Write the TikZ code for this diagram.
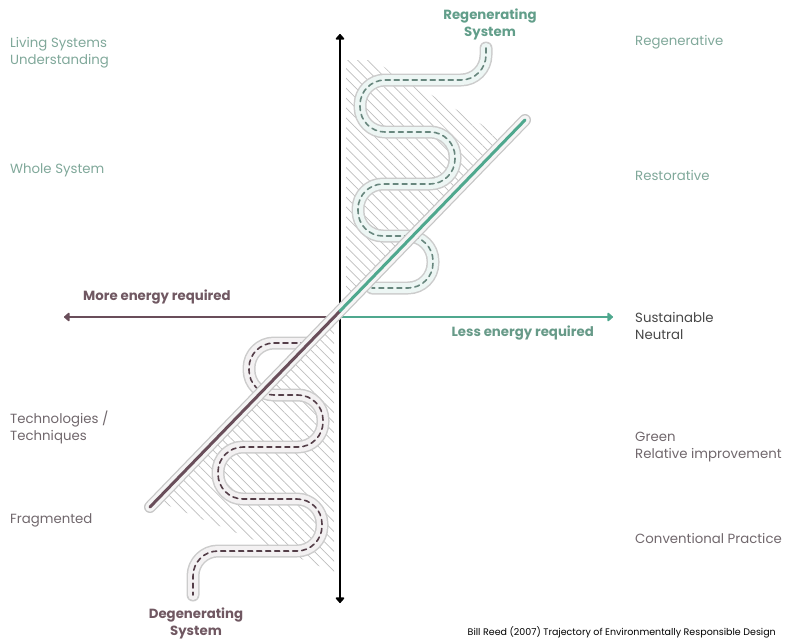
\documentclass[tikz,border=0pt]{standalone}
\usepackage{fontspec}
\setmainfont{Poppins}
\usetikzlibrary{arrows.meta, patterns.meta, calc}
\usepackage{xcolor}

\definecolor{regen}{RGB}{79,168,142}
\definecolor{regentext}{RGB}{98,158,138}
\definecolor{sage}{RGB}{128,168,154}
\definecolor{degen}{RGB}{105,78,90}
\definecolor{degentext}{RGB}{112,88,98}
\definecolor{dusk}{RGB}{112,103,108}
\definecolor{hatch}{RGB}{190,190,190}

\tikzset{
	label/.style={anchor=west, align=left, inner sep=0pt, font=\fontsize{13.3}{17}\selectfont},
	heading/.style={align=center, inner sep=0pt, font=\bfseries\fontsize{13.3}{17}\selectfont},
	tip/.style={Triangle[round, length=6pt, width=10pt]},
	axis/.style={line width=2.2pt, -{Triangle[round, length=6pt, width=10pt]}},
	trail/.style={rounded corners=25pt, line cap=round, line join=round},
}

\begin{document}
\begin{tikzpicture}[x=1pt, y=-1pt]
	\useasboundingbox (0,0) rectangle (786,643);

	\coordinate (o) at (340,317);
	\coordinate (top) at (340,34);
	\coordinate (bottom) at (340,603);
	\coordinate (west) at (64,317);
	\coordinate (east) at (613,317);
	\coordinate (lo) at (150,507);
	\coordinate (hi) at (525,120);
	\coordinate (cross) at (340,311);

	% hatched areas
	\fill [pattern={Lines[angle=-45, distance=7pt, line width=0.7pt]}, pattern color=hatch]
		(346,60) -- (372,60) -- (508,140) -- (cross) -- (346,305) -- cycle;
	\fill [pattern={Lines[angle=-45, distance=7pt, line width=0.7pt]}, pattern color=hatch]
		(334,322) -- (334,572) -- (162,503) -- cycle;

	% axes
	\draw [axis, degen] (o) -- (west);
	\draw [axis, regen] (o) -- (east);
	\draw [axis, black, {Triangle[round, length=6pt, width=10pt]}-{Triangle[round, length=6pt, width=10pt]}] (top) -- (bottom);

	% regenerating trail
	\draw [trail, gray!40, line width=13pt] (486,48) -- (486,80) -- (360,80) -- (360,132) -- (455,132) -- (455,184) -- (358,184) -- (358,236) -- (433,236) -- (433,288) -- (372,288);
	\draw [trail, regen!10, line width=10pt] (486,48) -- (486,80) -- (360,80) -- (360,132) -- (455,132) -- (455,184) -- (358,184) -- (358,236) -- (433,236) -- (433,288) -- (372,288);
	\draw [trail, regen!50!black!70, line width=1.6pt, dash pattern=on 5pt off 4pt] (486,48) -- (486,80) -- (360,80) -- (360,132) -- (455,132) -- (455,184) -- (358,184) -- (358,236) -- (433,236) -- (433,288) -- (372,288);

	% degenerating trail
	\draw [trail, gray!40, line width=13pt] (306,343) -- (249,343) -- (249,395) -- (323,395) -- (323,447) -- (218,447) -- (218,499) -- (322,499) -- (322,551) -- (193,551) -- (193,595);
	\draw [trail, degen!8, line width=10pt] (306,343) -- (249,343) -- (249,395) -- (323,395) -- (323,447) -- (218,447) -- (218,499) -- (322,499) -- (322,551) -- (193,551) -- (193,595);
	\draw [trail, degen!80!black, line width=1.6pt, dash pattern=on 5pt off 4pt] (306,343) -- (249,343) -- (249,395) -- (323,395) -- (323,447) -- (218,447) -- (218,499) -- (322,499) -- (322,551) -- (193,551) -- (193,595);

	% trajectory
	\draw [gray!45, line width=12pt, line cap=round] (lo) -- (hi);
	\draw [white!92!gray, line width=9.5pt, line cap=round] (lo) -- (hi);
	\draw [degen, line width=3pt, line cap=round] (lo) -- (cross);
	\draw [regen, line width=3pt, line cap=round] (cross) -- (hi);

	% left labels
	\node (living) [label, sage] at (10,53) {Living Systems\\Understanding};
	\node (whole) [label, sage] at (10,170) {Whole System};
	\node (techno) [label, dusk] at (10,427) {Technologies /\\Techniques};
	\node (fragm) [label, dusk] at (10,520) {Fragmented};

	% right labels
	\node (regenerative) [label, sage] at (635,42) {Regenerative};
	\node (restorative) [label, sage] at (635,175) {Restorative};
	\node (neutral) [label, black!72] at (635,326) {Sustainable\\Neutral};
	\node (green) [label, dusk] at (635,447) {Green\\Relative improvement};
	\node (conv) [label, dusk] at (635,538) {Conventional Practice};

	% headings
	\node (regsys) [heading, regentext] at (490,24) {Regenerating\\System};
	\node (degsys) [heading, degentext] at (196,623) {Degenerating\\System};
	\node (more) [heading, degentext, anchor=west] at (83,297) {More energy required};
	\node (less) [heading, regentext!85!gray, anchor=east] at (594,333) {Less energy required};

	\node (credit) [anchor=east, inner sep=0pt, font=\fontsize{9.5}{11}\selectfont] at (776,632) {Bill Reed (2007) Trajectory of Environmentally Responsible Design};
\end{tikzpicture}
\end{document}
